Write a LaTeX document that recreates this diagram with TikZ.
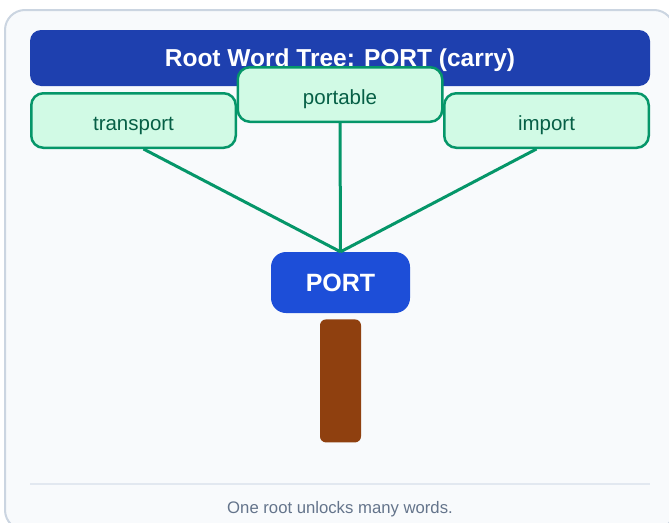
\documentclass[tikz,border=0pt]{standalone}
\usepackage{fontspec}
\setmainfont{Liberation Sans}
\usepackage{tikz}
\usetikzlibrary{positioning}

\definecolor{cardFill}{HTML}{F8FAFC}
\definecolor{cardLine}{HTML}{CBD5E1}
\definecolor{titleBlue}{HTML}{1E40AF}
\definecolor{rootBlue}{HTML}{1D4ED8}
\definecolor{leafFill}{HTML}{D1FAE5}
\definecolor{leafLine}{HTML}{059669}
\definecolor{leafText}{HTML}{065F46}
\definecolor{trunkBrown}{HTML}{8F400F}
\definecolor{ruleGray}{HTML}{E2E8F0}
\definecolor{noteGray}{HTML}{64748B}

\begin{document}
\begin{tikzpicture}[x=1pt,y=-1pt]
               \tikzstyle{titleBar}=[rectangle, rounded corners=11pt, fill=titleBlue, text=white,
                  minimum width=620pt, minimum height=56pt, inner sep=0pt, text depth=0pt,
                  font=\fontsize{24.5}{29}\selectfont\bfseries]
               \tikzstyle{leafBox}=[rectangle, rounded corners=12pt, fill=leafFill, draw=leafLine,
                  line width=2.5pt, text=leafText, minimum width=204.5pt, minimum height=54.5pt,
                  inner sep=0pt, text height=20.6pt, text depth=0pt, font=\fontsize{20.5}{24}\selectfont]
               \tikzstyle{rootBox}=[rectangle, rounded corners=15pt, fill=rootBlue, text=white,
                  minimum width=139pt, minimum height=61pt, inner sep=0pt, text depth=0pt,
                  font=\fontsize{25}{30}\selectfont\bfseries]
               \tikzstyle{trunkBox}=[rectangle, rounded corners=6pt, fill=trunkBrown,
                  minimum width=41pt, minimum height=123pt, inner sep=0pt]
               \tikzstyle{stem}=[draw=leafLine, line width=3pt]

               \useasboundingbox (0,0) rectangle (669,522);

               % card and heading
               \draw[fill=cardFill, draw=cardLine, line width=2pt, rounded corners=20pt] (5,10) rectangle (674,530);
               \node[titleBar] (title) at (340,58) {Root Word Tree: PORT (carry)};

               % words grown from the root
               \node[leafBox] (transport) at (133.5,120.5) {transport};
               \node[leafBox] (import) at (546.5,120.5) {import};
               \node[leafBox] (portable) at (340,94.5) {portable};

               % root and trunk
               \node[rootBox] (port) at (340.5,282.5) {PORT};
               \node[trunkBox, below=6pt of port] (trunk) {};

               \draw[stem] ([xshift=10pt]transport.south) -- (port.north);
               \draw[stem] (portable.south) -- (port.north);
               \draw[stem] ([xshift=-10pt]import.south) -- (port.north);

               % footer
               \coordinate (ruleL) at (30,484);
               \coordinate (ruleR) at (650,484);
               \draw[ruleGray, line width=2pt] (ruleL) -- (ruleR);
               \node[text=noteGray, font=\fontsize{16.7}{20}\selectfont] (note) at (340,509) {One root unlocks many words.};
            \end{tikzpicture}
\end{document}
